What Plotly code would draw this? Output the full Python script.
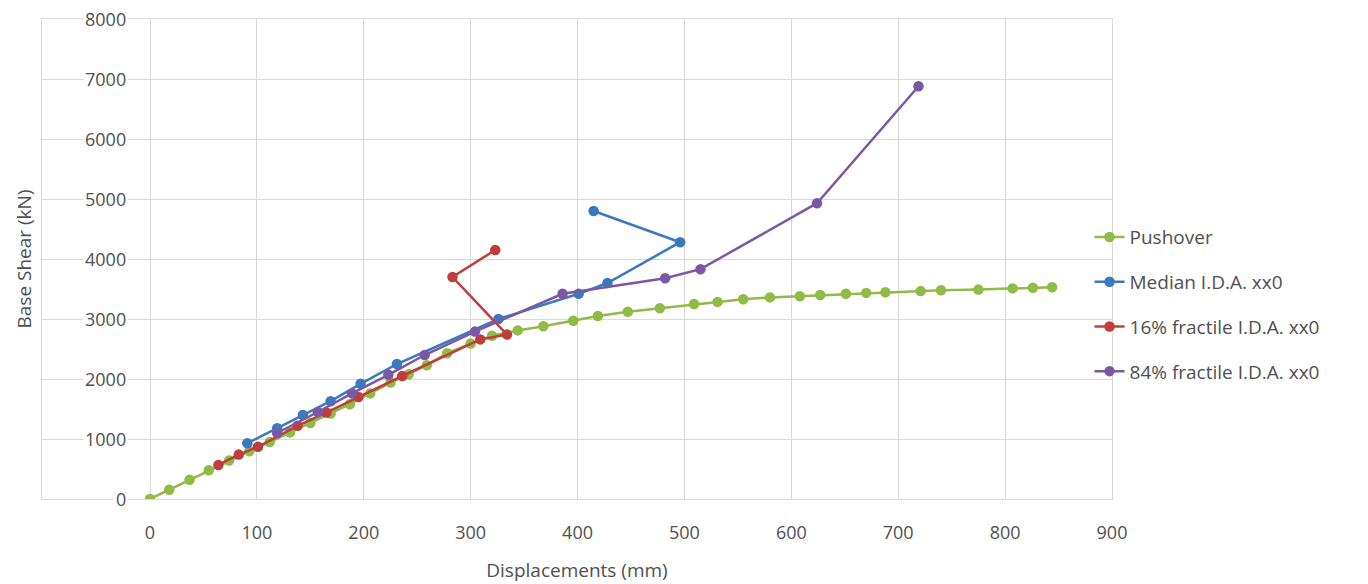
import plotly.graph_objects as go

# ---- data ----
push_x = [0, 18, 37, 55, 74, 93, 112, 131, 150, 169, 187, 206, 225, 242, 259, 278, 300, 320, 344, 368,
          396, 419, 447, 477, 509, 531, 555, 580, 608, 627, 651, 670, 688, 721, 740, 775, 807, 826, 844]
push_y = [0, 155, 320, 480, 640, 795, 950, 1110, 1265, 1425, 1580, 1760, 1940, 2080, 2230, 2430, 2590, 2720, 2810, 2880,
          2970, 3050, 3120, 3180, 3250, 3285, 3330, 3360, 3380, 3400, 3420, 3435, 3445, 3465, 3480, 3490, 3510, 3520, 3530]

med_x = [91, 119, 143, 169, 197, 231, 326, 401, 428, 496, 415]
med_y = [930, 1180, 1400, 1630, 1920, 2250, 3000, 3420, 3600, 4280, 4800]

f16_x = [64, 83, 101, 138, 165, 195, 236, 309, 334, 283, 323]
f16_y = [567, 740, 870, 1220, 1440, 1700, 2050, 2660, 2740, 3700, 4150]

f84_x = [119, 157, 189, 223, 257, 304, 386, 482, 515, 624, 719]
f84_y = [1100, 1450, 1760, 2070, 2400, 2790, 3420, 3680, 3830, 4930, 6880]

series_names = ["Pushover", "Median I.D.A. xx0", "16% fractile I.D.A. xx0", "84% fractile I.D.A. xx0"]
x_ticks = [0, 100, 200, 300, 400, 500, 600, 700, 800, 900]
y_ticks = [0, 1000, 2000, 3000, 4000, 5000, 6000, 7000, 8000]

colors = ["#8fbb46", "#3b79bf", "#bf3e3b", "#7b58a4"]
FONT = "Open Sans"
TXT = "#505050"
GRID = "#d9d9d9"

fig = go.Figure()
for i, (xs, ys) in enumerate([(push_x, push_y), (med_x, med_y), (f16_x, f16_y), (f84_x, f84_y)]):
    fig.add_trace(go.Scatter(
        x=xs, y=ys, mode="lines+markers", name=series_names[i],
        legendgroup=f"g{i}",
        line=dict(color=colors[i], width=2.5),
        marker=dict(color=colors[i], size=10.5),
    ))

# y tick labels drawn as text beside the zero line, with white background (as in reference)
for v in y_ticks:
    fig.add_annotation(x=0, y=v, xref="x", yref="y", text=str(v), showarrow=False,
                       xanchor="right", yanchor="middle", xshift=-22,
                       bgcolor="white", borderpad=1,
                       font=dict(family=FONT, size=18, color=TXT))

fig.update_layout(
    width=1368, height=584,
    margin=dict(l=42, r=256, t=19, b=85, autoexpand=False),
    paper_bgcolor="white", plot_bgcolor="white",
    font=dict(family=FONT, color=TXT),
    showlegend=True,
    legend=dict(x=0.979, xanchor="left", y=0.585, yanchor="top",
                bgcolor="rgba(0,0,0,0)", tracegroupgap=17,
                font=dict(family=FONT, size=19, color=TXT)),
    xaxis=dict(range=[-101.04, 900], tickvals=x_ticks, ticktext=[str(v) for v in x_ticks],
               automargin=False,
               showgrid=True, gridcolor=GRID, gridwidth=1, zeroline=False,
               showline=True, mirror=True, linecolor=GRID, linewidth=1,
               ticks="", ticklabelstandoff=17,
               tickfont=dict(family=FONT, size=18, color=TXT),
               title=dict(text="Displacements (mm)", standoff=21,
                          font=dict(family=FONT, size=19, color=TXT))),
    yaxis=dict(range=[0, 8000], tickvals=y_ticks, showticklabels=False,
               automargin=False,
               showgrid=True, gridcolor=GRID, gridwidth=1, zeroline=False,
               showline=True, mirror=True, linecolor=GRID, linewidth=1,
               ticks="",
               title=dict(text="Base Shear (kN)", standoff=4,
                          font=dict(family=FONT, size=19, color=TXT))),
)

fig.write_html("out.html")
